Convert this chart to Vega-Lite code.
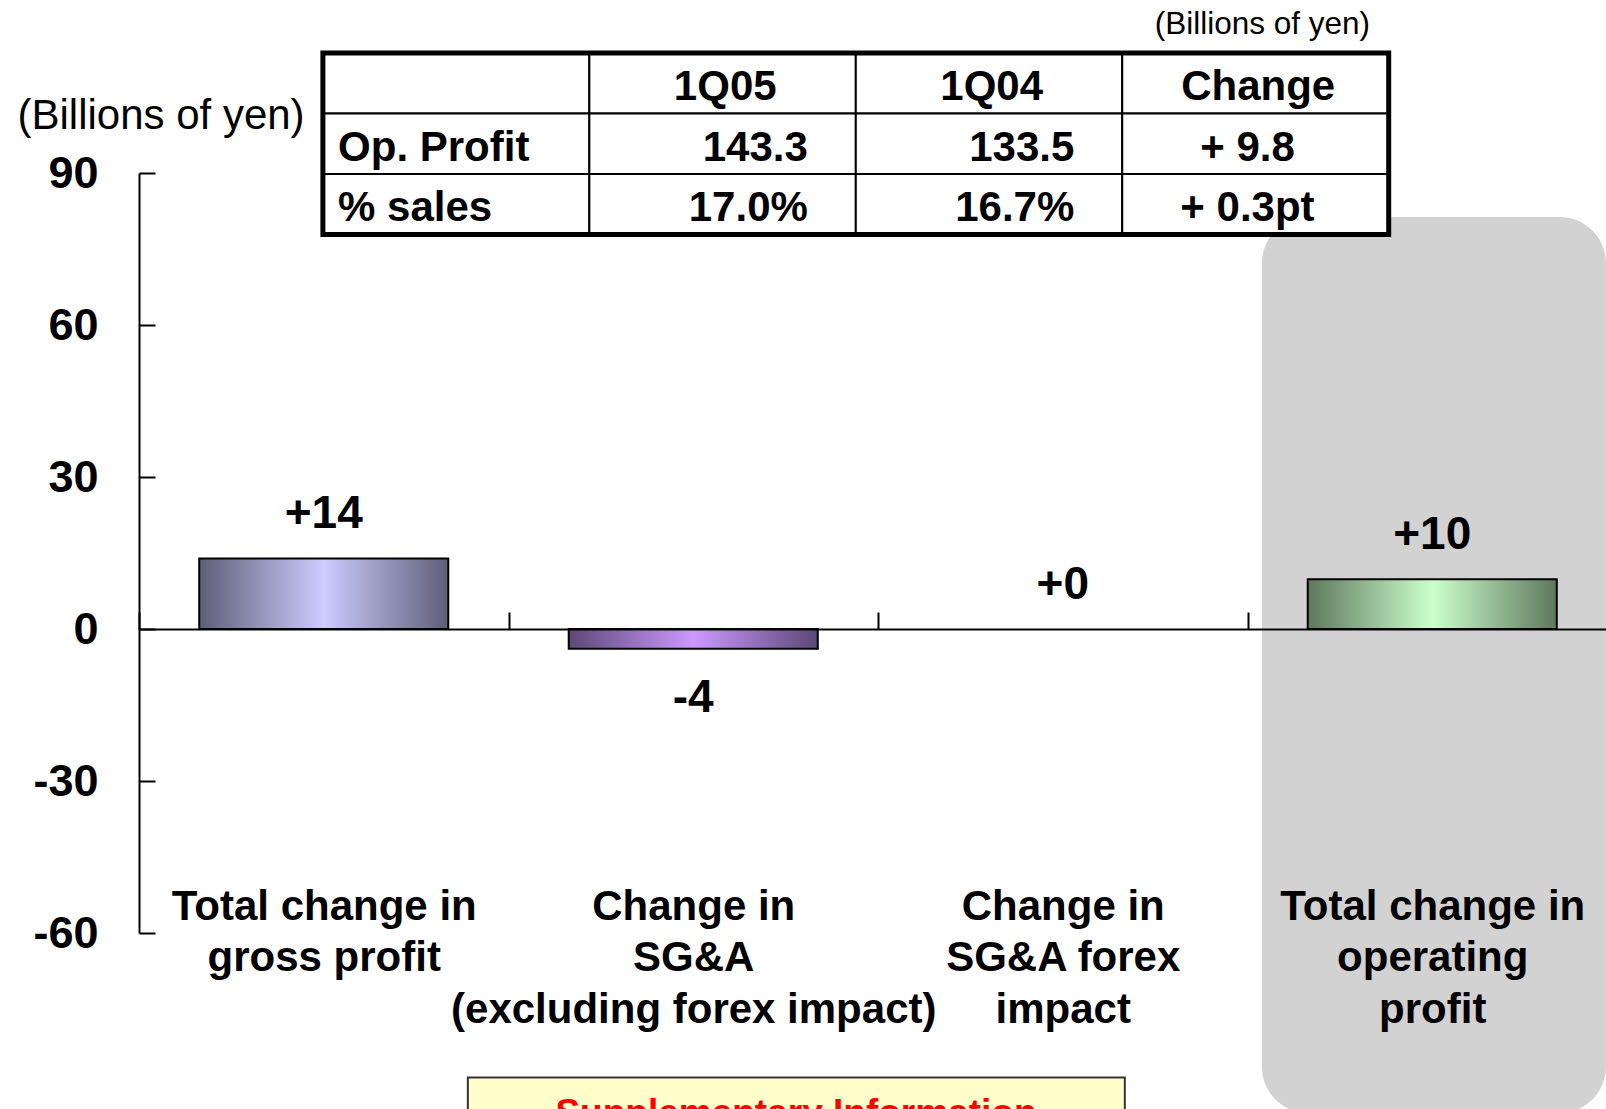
{
  "$schema": "https://vega.github.io/schema/vega-lite/v6.json",
  "width": 1467,
  "height": 760,
  "autosize": {"type": "none"},
  "padding": {"left": 139, "top": 173, "right": 0, "bottom": 176},
  "background": "white",
  "config": {"view": {"stroke": null}, "font": "Liberation Sans"},
  "datasets": {
    "bars": [
      {"category": "Total change in|gross profit", "value": 13.9, "label": "+14"},
      {"category": "Change in|SG&A|(excluding forex impact)", "value": -3.9, "label": "-4"},
      {"category": "Change in|SG&A forex|impact", "value": 0, "label": "+0"},
      {"category": "Total change in|operating|profit", "value": 9.8, "label": "+10"}
    ],
    "cells": [
      {"row": "header", "col": "label", "text": ""},
      {"row": "header", "col": "1Q05", "text": "1Q05"},
      {"row": "header", "col": "1Q04", "text": "1Q04"},
      {"row": "header", "col": "Change", "text": "Change"},
      {"row": "Op. Profit", "col": "label", "text": "Op. Profit"},
      {"row": "Op. Profit", "col": "1Q05", "text": "143.3"},
      {"row": "Op. Profit", "col": "1Q04", "text": "133.5"},
      {"row": "Op. Profit", "col": "Change", "text": "+ 9.8"},
      {"row": "% sales", "col": "label", "text": "% sales"},
      {"row": "% sales", "col": "1Q05", "text": "17.0%"},
      {"row": "% sales", "col": "1Q04", "text": "16.7%"},
      {"row": "% sales", "col": "Change", "text": "+ 0.3pt"}
    ],
    "unitnote": [{"text": "(Billions of yen)"}],
    "supplement": [{"text": "Supplementary Information"}]
  },
  "layer": [
    {
      "data": {"name": "bars"},
      "transform": [{"filter": "datum.category == 'Total change in|operating|profit'"}],
      "mark": {"type": "rect", "fill": "#D2D2D2", "cornerRadius": 46},
      "encoding": {
        "x": {"field": "category", "type": "nominal", "bandPosition": 0.039, "sort": null,
          "scale": {"type": "band", "domain": ["Total change in|gross profit", "Change in|SG&A|(excluding forex impact)", "Change in|SG&A forex|impact", "Total change in|operating|profit"], "range": [0, 1478], "paddingInner": 0, "paddingOuter": 0},
          "axis": null},
        "x2": {"field": "category", "bandPosition": 0.97},
        "y": {"datum": 81.3, "type": "quantitative", "scale": {"domain": [-60, 90], "nice": false, "zero": false}, "axis": null},
        "y2": {"datum": -95.5}
      }
    },
    {
      "data": {"name": "supplement"},
      "mark": {"type": "rect", "fill": "#FFFFCC", "stroke": "#333333", "strokeWidth": 2},
      "encoding": {
        "x": {"datum": "Total change in|gross profit", "type": "nominal", "bandPosition": 0.89,
          "scale": {"type": "band", "domain": ["Total change in|gross profit", "Change in|SG&A|(excluding forex impact)", "Change in|SG&A forex|impact", "Total change in|operating|profit"], "range": [0, 1478], "paddingInner": 0, "paddingOuter": 0},
          "axis": null},
        "x2": {"datum": "Change in|SG&A forex|impact", "bandPosition": 0.668},
        "y": {"datum": -88.5, "type": "quantitative", "scale": {"domain": [-60, 90], "nice": false, "zero": false}, "axis": null},
        "y2": {"datum": -100}
      }
    },
    {
      "data": {"name": "supplement"},
      "mark": {"type": "text", "color": "#FF0000", "fontWeight": "bold", "fontSize": 37, "align": "center", "baseline": "alphabetic"},
      "encoding": {
        "x": {"datum": "Change in|SG&A|(excluding forex impact)", "type": "nominal", "bandPosition": 0.778,
          "scale": {"type": "band", "domain": ["Total change in|gross profit", "Change in|SG&A|(excluding forex impact)", "Change in|SG&A forex|impact", "Total change in|operating|profit"], "range": [0, 1478], "paddingInner": 0, "paddingOuter": 0},
          "axis": null},
        "y": {"datum": -97.8, "type": "quantitative", "scale": {"domain": [-60, 90], "nice": false, "zero": false}, "axis": null},
        "text": {"field": "text"}
      }
    },
    {
      "data": {"name": "bars"},
      "transform": [{"filter": "datum.category == 'Total change in|gross profit'"}],
      "mark": {"type": "bar", "width": {"band": 0.674}, "stroke": "#000000", "strokeWidth": 2,
        "fill": {"gradient": "linear", "x1": 0, "y1": 0, "x2": 1, "y2": 0,
          "stops": [{"offset": 0, "color": "#5E5E78"}, {"offset": 0.5, "color": "#CCCCFF"}, {"offset": 1, "color": "#5E5E78"}]}},
      "encoding": {
        "x": {"field": "category", "type": "nominal", "sort": null,
          "scale": {"type": "band", "domain": ["Total change in|gross profit", "Change in|SG&A|(excluding forex impact)", "Change in|SG&A forex|impact", "Total change in|operating|profit"], "range": [0, 1478], "paddingInner": 0, "paddingOuter": 0},
          "axis": {"orient": "bottom", "offset": -304, "title": null, "zindex": 1,
            "domain": true, "domainColor": "#000000", "domainWidth": 2,
            "ticks": true, "tickBand": "extent", "tickSize": -17, "tickColor": "#000000", "tickWidth": 2,
            "labelExpr": "split(datum.label, '|')", "labelAngle": 0, "labelAlign": "center", "labelBaseline": "top",
            "labelFont": "Liberation Sans", "labelFontSize": 42, "labelFontWeight": "bold", "labelColor": "#000000",
            "labelLineHeight": 51.7, "labelPadding": 274, "labelLimit": 0, "labelOverlap": false}},
        "y": {"field": "value", "type": "quantitative",
          "scale": {"domain": [-60, 90], "nice": false, "zero": false},
          "axis": {"orient": "left", "values": [-60, -30, 0, 30, 60, 90], "zindex": 1,
            "domain": true, "domainColor": "#000000", "domainWidth": 2,
            "ticks": true, "tickSize": -16, "tickColor": "#000000", "tickWidth": 2,
            "grid": false,
            "labelExpr": "'' + datum.value",
            "labelFont": "Liberation Sans", "labelFontSize": 45, "labelFontWeight": "bold", "labelColor": "#000000",
            "labelPadding": 57, "labelAlign": "right", "labelBaseline": "middle",
            "title": "(Billions of yen)", "titleAngle": 0, "titleAlign": "left", "titleBaseline": "middle",
            "titleX": -122, "titleY": -58, "titleFont": "Liberation Sans", "titleFontSize": 42, "titleFontWeight": "normal", "titleColor": "#000000"}}
      }
    },
    {
      "data": {"name": "bars"},
      "transform": [{"filter": "datum.category == 'Change in|SG&A|(excluding forex impact)'"}],
      "mark": {"type": "bar", "width": {"band": 0.674}, "stroke": "#000000", "strokeWidth": 2,
        "fill": {"gradient": "linear", "x1": 0, "y1": 0, "x2": 1, "y2": 0,
          "stops": [{"offset": 0, "color": "#5C4878"}, {"offset": 0.5, "color": "#CC99FF"}, {"offset": 1, "color": "#5C4878"}]}},
      "encoding": {
        "x": {"field": "category", "type": "nominal", "sort": null,
          "scale": {"type": "band", "domain": ["Total change in|gross profit", "Change in|SG&A|(excluding forex impact)", "Change in|SG&A forex|impact", "Total change in|operating|profit"], "range": [0, 1478], "paddingInner": 0, "paddingOuter": 0},
          "axis": null},
        "y": {"field": "value", "type": "quantitative", "scale": {"domain": [-60, 90], "nice": false, "zero": false}, "axis": null}
      }
    },
    {
      "data": {"name": "bars"},
      "transform": [{"filter": "datum.category == 'Total change in|operating|profit'"}],
      "mark": {"type": "bar", "width": {"band": 0.674}, "stroke": "#000000", "strokeWidth": 2,
        "fill": {"gradient": "linear", "x1": 0, "y1": 0, "x2": 1, "y2": 0,
          "stops": [{"offset": 0, "color": "#5E785E"}, {"offset": 0.5, "color": "#CCFFCC"}, {"offset": 1, "color": "#5E785E"}]}},
      "encoding": {
        "x": {"field": "category", "type": "nominal", "sort": null,
          "scale": {"type": "band", "domain": ["Total change in|gross profit", "Change in|SG&A|(excluding forex impact)", "Change in|SG&A forex|impact", "Total change in|operating|profit"], "range": [0, 1478], "paddingInner": 0, "paddingOuter": 0},
          "axis": null},
        "y": {"field": "value", "type": "quantitative", "scale": {"domain": [-60, 90], "nice": false, "zero": false}, "axis": null}
      }
    },
    {
      "data": {"name": "bars"},
      "transform": [{"filter": "datum.value >= 0"}],
      "mark": {"type": "text", "fontSize": 46, "fontWeight": "bold", "color": "#000000", "align": "center", "baseline": "middle", "dy": -44.5},
      "encoding": {
        "x": {"field": "category", "type": "nominal", "sort": null,
          "scale": {"type": "band", "domain": ["Total change in|gross profit", "Change in|SG&A|(excluding forex impact)", "Change in|SG&A forex|impact", "Total change in|operating|profit"], "range": [0, 1478], "paddingInner": 0, "paddingOuter": 0},
          "axis": null},
        "y": {"field": "value", "type": "quantitative", "scale": {"domain": [-60, 90], "nice": false, "zero": false}, "axis": null},
        "text": {"field": "label"}
      }
    },
    {
      "data": {"name": "bars"},
      "transform": [{"filter": "datum.value < 0"}],
      "mark": {"type": "text", "fontSize": 46, "fontWeight": "bold", "color": "#000000", "align": "center", "baseline": "middle", "dy": 49},
      "encoding": {
        "x": {"field": "category", "type": "nominal", "sort": null,
          "scale": {"type": "band", "domain": ["Total change in|gross profit", "Change in|SG&A|(excluding forex impact)", "Change in|SG&A forex|impact", "Total change in|operating|profit"], "range": [0, 1478], "paddingInner": 0, "paddingOuter": 0},
          "axis": null},
        "y": {"field": "value", "type": "quantitative", "scale": {"domain": [-60, 90], "nice": false, "zero": false}, "axis": null},
        "text": {"field": "label"}
      }
    },
    {
      "data": {"name": "cells"},
      "mark": {"type": "rect", "fill": "#FFFFFF", "stroke": "#000000", "strokeWidth": 2},
      "encoding": {
        "x": {"field": "col", "type": "nominal", "sort": null, "scale": {"type": "band", "domain": ["label", "1Q05", "1Q04", "Change"], "range": [183.9, 1249.7], "paddingInner": 0, "paddingOuter": 0}, "axis": null},
        "y": {"field": "row", "type": "nominal", "sort": null, "scale": {"type": "band", "domain": ["unit", "header", "Op. Profit", "% sales"], "range": [-180.5, 61.5], "paddingInner": 0, "paddingOuter": 0}, "axis": null}
      }
    },
    {
      "data": {"name": "unitnote"},
      "mark": {"type": "rect", "fill": null, "stroke": "#000000", "strokeWidth": 5},
      "encoding": {
        "x": {"datum": "label", "type": "nominal", "bandPosition": 0, "scale": {"type": "band", "domain": ["label", "1Q05", "1Q04", "Change"], "range": [183.9, 1249.7], "paddingInner": 0, "paddingOuter": 0}, "axis": null},
        "x2": {"datum": "Change", "bandPosition": 1},
        "y": {"datum": "header", "type": "nominal", "bandPosition": 0, "scale": {"type": "band", "domain": ["unit", "header", "Op. Profit", "% sales"], "range": [-180.5, 61.5], "paddingInner": 0, "paddingOuter": 0}, "axis": null},
        "y2": {"datum": "% sales", "bandPosition": 1}
      }
    },
    {
      "data": {"name": "cells"},
      "transform": [{"filter": "datum.row == 'header' && datum.col != 'label'"}],
      "mark": {"type": "text", "fontSize": 42, "fontWeight": "bold", "color": "#000000", "align": "center", "baseline": "middle", "dy": 4},
      "encoding": {
        "x": {"field": "col", "type": "nominal", "bandPosition": 0.51, "scale": {"type": "band", "domain": ["label", "1Q05", "1Q04", "Change"], "range": [183.9, 1249.7], "paddingInner": 0, "paddingOuter": 0}, "axis": null},
        "y": {"field": "row", "type": "nominal", "bandPosition": 0.5, "scale": {"type": "band", "domain": ["unit", "header", "Op. Profit", "% sales"], "range": [-180.5, 61.5], "paddingInner": 0, "paddingOuter": 0}, "axis": null},
        "text": {"field": "text"}
      }
    },
    {
      "data": {"name": "cells"},
      "transform": [{"filter": "datum.row != 'header' && datum.col == 'label'"}],
      "mark": {"type": "text", "fontSize": 42, "fontWeight": "bold", "color": "#000000", "align": "left", "baseline": "middle", "dy": 4},
      "encoding": {
        "x": {"field": "col", "type": "nominal", "bandPosition": 0.057, "scale": {"type": "band", "domain": ["label", "1Q05", "1Q04", "Change"], "range": [183.9, 1249.7], "paddingInner": 0, "paddingOuter": 0}, "axis": null},
        "y": {"field": "row", "type": "nominal", "bandPosition": 0.5, "scale": {"type": "band", "domain": ["unit", "header", "Op. Profit", "% sales"], "range": [-180.5, 61.5], "paddingInner": 0, "paddingOuter": 0}, "axis": null},
        "text": {"field": "text"}
      }
    },
    {
      "data": {"name": "cells"},
      "transform": [{"filter": "datum.row != 'header' && (datum.col == '1Q05' || datum.col == '1Q04')"}],
      "mark": {"type": "text", "fontSize": 42, "fontWeight": "bold", "color": "#000000", "align": "right", "baseline": "middle", "dy": 4},
      "encoding": {
        "x": {"field": "col", "type": "nominal", "bandPosition": 0.82, "scale": {"type": "band", "domain": ["label", "1Q05", "1Q04", "Change"], "range": [183.9, 1249.7], "paddingInner": 0, "paddingOuter": 0}, "axis": null},
        "y": {"field": "row", "type": "nominal", "bandPosition": 0.5, "scale": {"type": "band", "domain": ["unit", "header", "Op. Profit", "% sales"], "range": [-180.5, 61.5], "paddingInner": 0, "paddingOuter": 0}, "axis": null},
        "text": {"field": "text"}
      }
    },
    {
      "data": {"name": "cells"},
      "transform": [{"filter": "datum.row != 'header' && datum.col == 'Change'"}],
      "mark": {"type": "text", "fontSize": 42, "fontWeight": "bold", "color": "#000000", "align": "center", "baseline": "middle", "dy": 4},
      "encoding": {
        "x": {"field": "col", "type": "nominal", "bandPosition": 0.47, "scale": {"type": "band", "domain": ["label", "1Q05", "1Q04", "Change"], "range": [183.9, 1249.7], "paddingInner": 0, "paddingOuter": 0}, "axis": null},
        "y": {"field": "row", "type": "nominal", "bandPosition": 0.5, "scale": {"type": "band", "domain": ["unit", "header", "Op. Profit", "% sales"], "range": [-180.5, 61.5], "paddingInner": 0, "paddingOuter": 0}, "axis": null},
        "text": {"field": "text"}
      }
    },
    {
      "data": {"name": "unitnote"},
      "mark": {"type": "text", "fontSize": 31.5, "fontWeight": "normal", "color": "#000000", "align": "right", "baseline": "middle", "dy": 2},
      "encoding": {
        "x": {"datum": "Change", "type": "nominal", "bandPosition": 0.93, "scale": {"type": "band", "domain": ["label", "1Q05", "1Q04", "Change"], "range": [183.9, 1249.7], "paddingInner": 0, "paddingOuter": 0}, "axis": null},
        "y": {"datum": "unit", "type": "nominal", "bandPosition": 0.5, "scale": {"type": "band", "domain": ["unit", "header", "Op. Profit", "% sales"], "range": [-180.5, 61.5], "paddingInner": 0, "paddingOuter": 0}, "axis": null},
        "text": {"field": "text"}
      }
    }
  ],
  "resolve": {"scale": {"x": "independent", "y": "independent"}}
}
